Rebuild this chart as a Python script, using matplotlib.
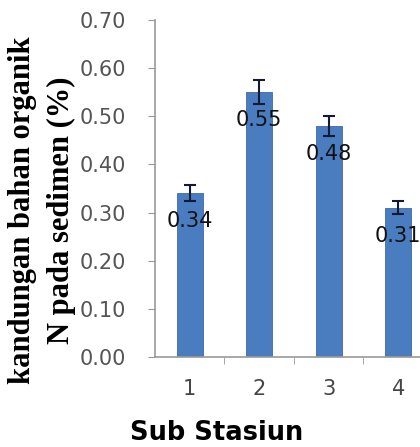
import numpy as np
import matplotlib.pyplot as plt
from matplotlib.ticker import FixedLocator, FormatStrFormatter

stations = ["1", "2", "3", "4"]
n_organik = [0.34, 0.55, 0.48, 0.31]
n_err = [0.017, 0.025, 0.02, 0.014]
value_labels = ["0.34", "0.55", "0.48", "0.31"]

W, H = 420, 447
fig = plt.figure(figsize=(W / 100, H / 100), dpi=100)

# axes run past the right edge of the canvas, so the last bar sits at the border
left, right, bottom, top = 155, 433, 357, 20
ax = fig.add_axes([left / W, 1 - bottom / H, (right - left) / W, (bottom - top) / H])

x = np.arange(1, len(stations) + 1)
ax.bar(x, n_organik, width=0.38, color="#4a7cc0", edgecolor="#3f6aa6", lw=0.6, zorder=2)
ax.errorbar(x, n_organik, yerr=n_err, fmt="none", ecolor="#111a33", elinewidth=1.5,
            capsize=4, capthick=1.5, zorder=3)

for xi, v, lab in zip(x, n_organik, value_labels):
    ax.text(xi, v - 0.058, lab, ha="center", va="center", fontsize=15, color="#111111",
            zorder=4)

ax.set_xlim(0.5, 4.5)
ax.set_ylim(0, 0.70)
ax.set_yticks(np.arange(0, 0.71, 0.1))
ax.yaxis.set_major_formatter(FormatStrFormatter("%.2f"))
ax.set_xticks(x)
ax.set_xticklabels(stations)
ax.xaxis.set_minor_locator(FixedLocator([1.5, 2.5, 3.5]))
ax.tick_params(axis="x", which="major", length=0, pad=16, labelsize=15, labelcolor="#444444")
ax.tick_params(axis="x", which="minor", length=5, color="#999999")
ax.tick_params(axis="y", length=5, color="#999999", pad=16, labelsize=15,
               labelcolor="#555555")

for s in ["top", "right"]:
    ax.spines[s].set_visible(False)
for s in ["left", "bottom"]:
    ax.spines[s].set_color("#9a9a9a")
    ax.spines[s].set_linewidth(1.2)

fig.text(23 / W, 1 - 210 / H, "kandungan bahan organik", rotation=90, ha="center",
         va="center", fontsize=22, fontweight="bold", family="Liberation Serif")
fig.text(61 / W, 1 - 210 / H, "N pada sedimen (%)", rotation=90, ha="center",
         va="center", fontsize=22, fontweight="bold", family="Liberation Serif")
fig.text(217 / W, 1 - 440 / H, "Sub Stasiun", ha="center", va="baseline", fontsize=18.5,
         fontweight="bold")

fig.savefig("out.png", dpi=100)
